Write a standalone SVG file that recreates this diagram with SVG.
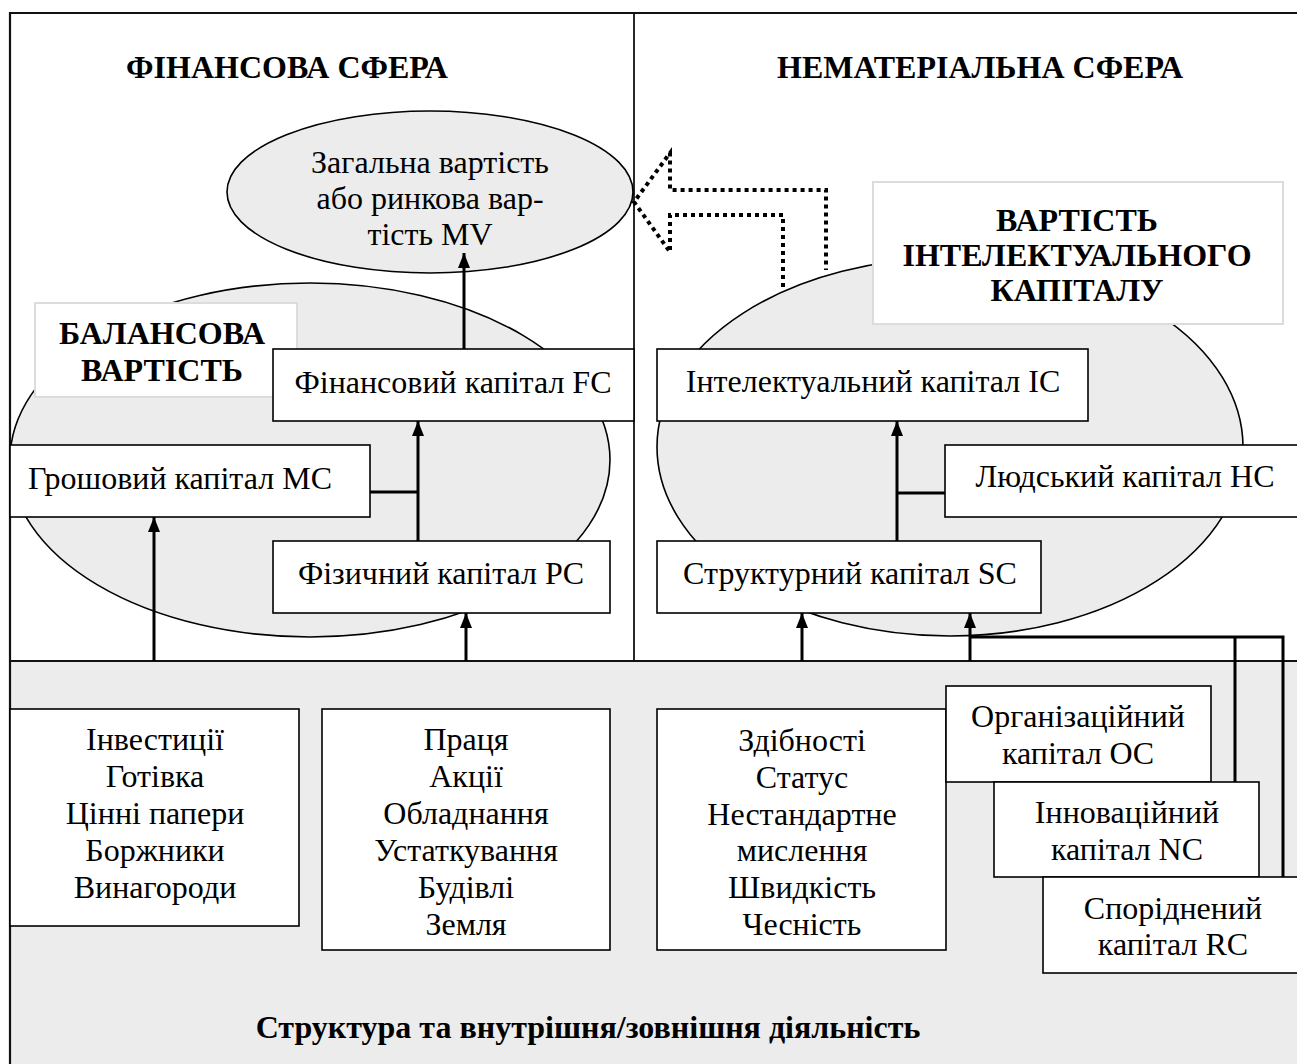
<svg xmlns="http://www.w3.org/2000/svg" width="1297" height="1064" viewBox="0 0 1297 1064">
  <style>
    text { font-family: "Liberation Serif", "Times New Roman", serif; fill: #000; text-anchor: middle; }
    .t { font-size: 32px; }
    .b { font-size: 32px; font-weight: bold; }
    .box { fill: #fff; stroke: #000; stroke-width: 1.6; }
    .tag { fill: #fff; stroke: #dcdcdc; stroke-width: 2; }
    .oval { fill: #ececec; stroke: #000; stroke-width: 1.6; }
    .wire { fill: none; stroke: #000; stroke-width: 3; }
    .dots { fill: none; stroke: #000; stroke-width: 4; stroke-dasharray: 4 4; }
  </style>
  <defs>
    <marker id="head" markerUnits="userSpaceOnUse" viewBox="0 0 15 12" refX="15" refY="6" markerWidth="15" markerHeight="12" orient="auto">
      <path d="M0,0 L15,6 L0,12 z" fill="#000"/>
    </marker>
  </defs>

  <!-- background: upper sphere panel and lower activity band -->
  <rect x="0" y="0" width="1297" height="1064" fill="#fff"/>
  <rect x="10" y="661" width="1287" height="403" fill="#ececec"/>
  <g id="frame" fill="none" stroke="#111">
    <path d="M10,1064 V13 H1297" stroke-width="2.2"/>
    <line x1="10" y1="661" x2="1297" y2="661" stroke-width="2"/>
    <line x1="634" y1="13" x2="634" y2="661" stroke-width="1.8"/>
  </g>

  <!-- sphere headings -->
  <g id="heading-financial"><text class="b" x="287" y="78">ФІНАНСОВА СФЕРА</text></g>
  <g id="heading-intangible"><text class="b" x="980" y="78">НЕМАТЕРІАЛЬНА СФЕРА</text></g>

  <!-- hollow dotted arrow: intellectual capital feeds market value -->
  <g id="flow-ic-mv">
    <path class="dots" d="M783,287 V215 H670 V252 L634,202 L670,153 V190 H826 V270"/>
  </g>

  <!-- value ovals -->
  <g id="market-value">
    <ellipse class="oval" cx="430" cy="192" rx="203" ry="81"/>
    <text class="t" x="430" y="173">Загальна вартість</text>
    <text class="t" x="430" y="209">або ринкова вар-</text>
    <text class="t" x="430" y="245">тість MV</text>
  </g>
  <g id="book-value">
    <ellipse class="oval" cx="310" cy="460" rx="300" ry="177"/>
  </g>
  <g id="ic-value">
    <ellipse class="oval" cx="950" cy="447" rx="293" ry="189"/>
  </g>

  <!-- oval captions -->
  <g id="book-value-label">
    <rect class="tag" x="35" y="303" width="262" height="94"/>
    <text class="b" x="162" y="344">БАЛАНСОВА</text>
    <text class="b" x="162" y="381">ВАРТІСТЬ</text>
  </g>
  <g id="ic-value-label">
    <rect class="tag" x="873" y="182" width="410" height="142"/>
    <text class="b" x="1077" y="231">ВАРТІСТЬ</text>
    <text class="b" x="1077" y="266">ІНТЕЛЕКТУАЛЬНОГО</text>
    <text class="b" x="1077" y="301">КАПІТАЛУ</text>
  </g>

  <!-- connectors -->
  <g id="connectors">
    <line class="wire" x1="464" y1="349" x2="464" y2="253" marker-end="url(#head)"/>
    <line class="wire" x1="418" y1="541" x2="418" y2="421" marker-end="url(#head)"/>
    <line class="wire" x1="370" y1="492" x2="418" y2="492"/>
    <line class="wire" x1="154" y1="661" x2="154" y2="517" marker-end="url(#head)"/>
    <line class="wire" x1="466" y1="661" x2="466" y2="613" marker-end="url(#head)"/>
    <line class="wire" x1="897" y1="541" x2="897" y2="421" marker-end="url(#head)"/>
    <line class="wire" x1="897" y1="493" x2="945" y2="493"/>
    <line class="wire" x1="802" y1="661" x2="802" y2="613" marker-end="url(#head)"/>
    <line class="wire" x1="970" y1="661" x2="970" y2="613" marker-end="url(#head)"/>
    <path class="wire" d="M970,637 H1283 V877"/>
    <line class="wire" x1="1235" y1="637" x2="1235" y2="782"/>
  </g>

  <!-- capital nodes -->
  <g id="fc">
    <rect class="box" x="273" y="349" width="361" height="72"/>
    <text class="t" x="453" y="393">Фінансовий капітал FC</text>
  </g>
  <g id="mc">
    <rect class="box" x="10" y="445" width="360" height="72"/>
    <text class="t" x="180" y="489">Грошовий капітал MC</text>
  </g>
  <g id="pc">
    <rect class="box" x="273" y="541" width="337" height="72"/>
    <text class="t" x="441" y="584">Фізичний капітал PC</text>
  </g>
  <g id="ic">
    <rect class="box" x="657" y="349" width="431" height="72"/>
    <text class="t" x="873" y="392">Інтелектуальний капітал IC</text>
  </g>
  <g id="hc">
    <rect class="box" x="945" y="445" width="360" height="72"/>
    <text class="t" x="1125" y="487">Людський капітал HC</text>
  </g>
  <g id="sc">
    <rect class="box" x="657" y="541" width="384" height="72"/>
    <text class="t" x="850" y="584">Структурний капітал SC</text>
  </g>

  <!-- resource lists -->
  <g id="financial-assets">
    <rect class="box" x="10" y="709" width="289" height="217"/>
    <text class="t" x="155" y="750">Інвестиції</text>
    <text class="t" x="155" y="787">Готівка</text>
    <text class="t" x="155" y="824">Цінні папери</text>
    <text class="t" x="155" y="861">Боржники</text>
    <text class="t" x="155" y="898">Винагороди</text>
  </g>
  <g id="physical-assets">
    <rect class="box" x="322" y="709" width="288" height="241"/>
    <text class="t" x="466" y="750">Праця</text>
    <text class="t" x="466" y="787">Акції</text>
    <text class="t" x="466" y="824">Обладнання</text>
    <text class="t" x="466" y="861">Устаткування</text>
    <text class="t" x="466" y="898">Будівлі</text>
    <text class="t" x="466" y="935">Земля</text>
  </g>
  <g id="human-traits">
    <rect class="box" x="657" y="709" width="289" height="241"/>
    <text class="t" x="802" y="751">Здібності</text>
    <text class="t" x="802" y="788">Статус</text>
    <text class="t" x="802" y="825">Нестандартне</text>
    <text class="t" x="802" y="861">мислення</text>
    <text class="t" x="802" y="898">Швидкість</text>
    <text class="t" x="802" y="935">Чесність</text>
  </g>
  <g id="oc">
    <rect class="box" x="946" y="686" width="265" height="96"/>
    <text class="t" x="1078" y="727">Організаційний</text>
    <text class="t" x="1078" y="764">капітал OC</text>
  </g>
  <g id="nc">
    <rect class="box" x="994" y="782" width="265" height="95"/>
    <text class="t" x="1127" y="823">Інноваційний</text>
    <text class="t" x="1127" y="860">капітал NC</text>
  </g>
  <g id="rc">
    <rect class="box" x="1043" y="877" width="262" height="96"/>
    <text class="t" x="1173" y="919">Споріднений</text>
    <text class="t" x="1173" y="955">капітал RC</text>
  </g>

  <g id="activity-caption">
    <text class="b" x="588" y="1038">Структура та внутрішня/зовнішня діяльність</text>
  </g>
</svg>
